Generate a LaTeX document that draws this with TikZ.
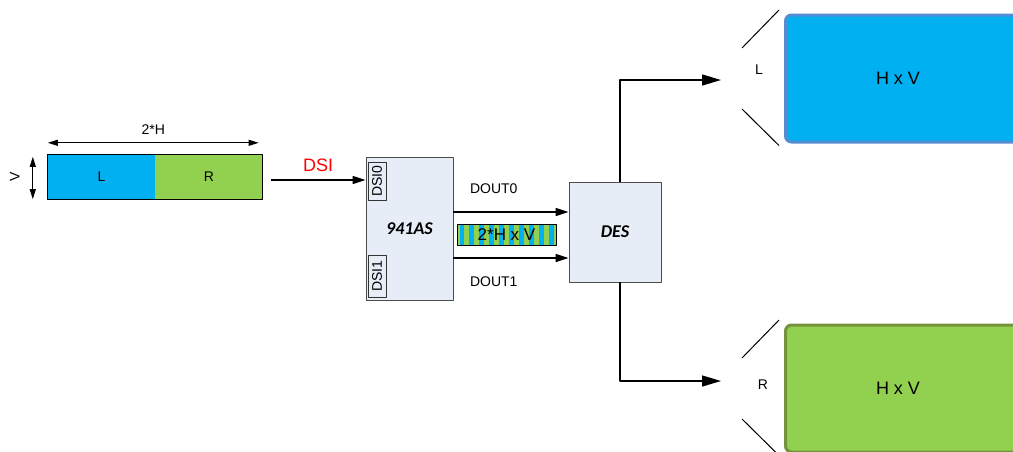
\documentclass[tikz,border=0pt]{standalone}
\usepackage{fontspec}
\setmainfont{Liberation Sans}
\newfontfamily\chipfont{Carlito}
\usetikzlibrary{arrows.meta,positioning}
\definecolor{panelL}{RGB}{0,176,240}
\definecolor{panelR}{RGB}{146,208,80}
\definecolor{chipbg}{RGB}{231,237,247}
\definecolor{edgeL}{RGB}{84,141,212}
\definecolor{edgeR}{RGB}{118,146,60}
\begin{document}
\begin{tikzpicture}[x=1pt,y=-1pt,>={Triangle[length=13pt,width=8pt]},font=\fontsize{14}{16}\selectfont,line join=round,
 half/.style={minimum width=107pt,minimum height=44pt,inner sep=0pt},
 chip/.style={draw=black!70,line width=0.8pt,fill=chipbg,inner sep=0pt,font=\chipfont\bfseries\itshape\fontsize{18}{20}\selectfont},
 port/.style={draw=black!80,line width=0.8pt,rotate=90,minimum height=18pt,inner sep=0pt},
 sig/.style={->,line width=1.4pt},
 bigsig/.style={-{Triangle[length=19pt,width=11pt]},line width=1.4pt},
 dim/.style={{Triangle[length=10pt,width=6pt]}-{Triangle[length=10pt,width=6pt]},line width=1pt},
 screen/.style={rounded corners=6pt,line width=3pt,minimum width=300pt,minimum height=127pt,anchor=north west},
 fan/.style={line width=1pt}]
 \clip (0,0) rectangle (1013,451);
 % input frame
 \node[half,fill=panelL] (barL) at (101.5,177) {L};
 \node[half,fill=panelR,right=0pt of barL] (barR) {R};
 \draw[line width=0.8pt] (barL.north west) rectangle (barR.south east);
 \draw[dim] ([yshift=12pt]barL.north west) -- ([xshift=-4pt,yshift=12pt]barR.north east) node[midway,above=4pt]{2*H};
 \draw[dim] ([xshift=-15pt,yshift=-2pt]barL.north west) -- ([xshift=-15pt]barL.south west);
 \node[rotate=90] (vlab) at ([xshift=-33pt]barL.west) {V};
 % serializer
 \node[chip,minimum width=87pt,minimum height=143pt] (ser) at (409.5,228.5) {941AS};
 \node[port,minimum width=38pt] (dsi0) at (377,181) {DSI0};
 \node[port,minimum width=42pt] (dsi1) at (377,276) {DSI1};
 \draw[sig] ([xshift=8pt,yshift=-3pt]barR.east) -- ([yshift=-3pt]barR.east -| ser.west)
   node[midway,above=4pt,text=red,font=\fontsize{18}{20}\selectfont]{DSI};
 % deserializer
 \node[chip,minimum width=92pt,minimum height=100pt] (des) at (615,232) {DES};
 \draw[sig] ([yshift=16.5pt]ser.east) -- ([yshift=16.5pt]ser.east -| des.west) node[pos=0.35,above=14pt]{DOUT0};
 \draw[sig] ([yshift=-29.5pt]ser.east) -- ([yshift=-29.5pt]ser.east -| des.west) node[pos=0.35,below=15pt]{DOUT1};
 \fill[panelR] (457,224) rectangle (556,245);
 \foreach \i in {0,...,9}
  \fill[panelL] (459.5+\i*9.9,224) rectangle +(4.95,21);
 \node[draw,line width=0.8pt,minimum width=99pt,minimum height=21pt,inner sep=0pt,font=\fontsize{17}{19}\selectfont] (pack) at (506.5,234.5) {2*H x V};
 % displays
 \node[screen,draw=edgeL,fill=panelL] (screenL) at (784,13.5) {};
 \node[screen,draw=edgeR,fill=panelR] (screenR) at (784,323.5) {};
 \node[font=\fontsize{18}{20}\selectfont] (sizeL) at ([xshift=114pt]screenL.west) {H x V};
 \node[font=\fontsize{18}{20}\selectfont] (sizeR) at ([xshift=114pt]screenR.west) {H x V};
 \foreach \s in {screenL,screenR}{
  \draw[fan] ([shift={(-42,34.5)}]\s.north west) -- ([shift={(-5,-3.5)}]\s.north west);
  \draw[fan] ([shift={(-42,-34.5)}]\s.south west) -- ([shift={(-5,2)}]\s.south west);
 }
 \node (nameL) at (759,70) {L};
 \node (nameR) at (763,385) {R};
 \coordinate (tipL) at (721,80);
 \coordinate (tipR) at (721,381);
 \draw[bigsig] ([xshift=5pt]des.north) |- (tipL);
 \draw[bigsig] ([xshift=5pt]des.south) |- (tipR);
\end{tikzpicture}
\end{document}
